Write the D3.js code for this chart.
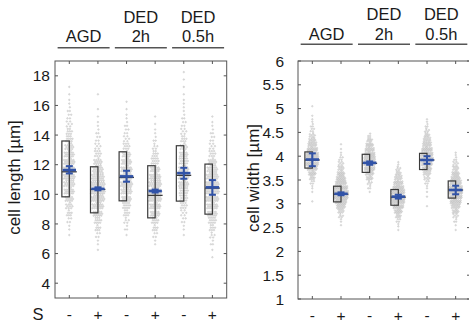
<!DOCTYPE html>
<html><head><meta charset="utf-8">
<script src="https://cdn.jsdelivr.net/npm/d3@7"></script>
<style>body{margin:0;background:#fff}svg{display:block}</style>
</head><body><svg id="c" width="469" height="324"></svg>
<script>
// ---------- data ----------
const positions = [1, 2, 3, 4, 5, 6];
const signs = ["-", "+", "-", "+", "-", "+"];
const groupTop = ["", "DED", "DED"];
const groupBottom = ["AGD", "2h", "0.5h"];
const groupPairs = [[1, 2], [3, 4], [5, 6]];

const lengthTicks = [4, 6, 8, 10, 12, 14, 16, 18];
const widthTicks = [1, 1.5, 2, 2.5, 3, 3.5, 4, 4.5, 5, 5.5, 6];
const widthTickLabels = ["1", "1.5", "2", "2.5", "3", "3.5", "4", "4.5", "5", "5.5", "6"];

const lengthMean = [11.64, 10.37, 11.21, 10.22, 11.43, 10.47];
const lengthCILow = [11.41, 10.27, 10.85, 10.12, 11.05, 9.97];
const lengthCIHigh = [11.90, 10.47, 11.59, 10.32, 11.79, 10.96];
const lengthBoxLow = [9.83, 8.75, 9.56, 8.41, 9.54, 8.66];
const lengthBoxHigh = [13.60, 11.86, 12.87, 11.93, 13.28, 12.04];
const lengthMedian = [11.52, 10.33, 11.14, 9.93, 11.28, 10.42];

const widthMean = [3.93, 3.21, 3.86, 3.15, 3.92, 3.29];
const widthCILow = [3.79, 3.18, 3.82, 3.11, 3.84, 3.20];
const widthCIHigh = [4.06, 3.24, 3.89, 3.19, 4.00, 3.38];
const widthBoxLow = [3.75, 3.04, 3.66, 2.97, 3.72, 3.12];
const widthBoxHigh = [4.09, 3.37, 4.04, 3.30, 4.06, 3.48];
const widthMedian = [3.92, 3.20, 3.85, 3.14, 3.92, 3.29];

// histogram counts of the individual cells (length: bins of 0.5 from 5.5; width: bins of 0.1 from 2.3)
const lengthBinStart = 5.5, lengthBinStep = 0.5;
const lengthCounts1 = [0,0,0,1,2,4,7,10,13,17,19,21,21,20,17,14,11,8,6,4,3,2,1,1,0,0];
const lengthCounts2 = [0,1,2,4,7,11,16,21,26,28,27,23,18,13,9,6,4,3,2,1,1,0,1,0,0,0];
const lengthCounts3 = [0,0,0,1,3,5,8,12,16,19,22,22,20,17,13,9,6,4,3,2,1,1,0,0,0,0];
const lengthCounts4 = [0,0,2,4,7,11,16,20,24,25,23,20,16,12,8,5,3,2,1,1,0,0,0,0,0,0];
const lengthCounts5 = [0,0,0,1,2,4,6,9,12,15,17,18,17,15,13,10,8,6,4,3,2,2,1,1,1,1];
const lengthCounts6 = [1,1,3,5,8,12,16,20,24,26,25,22,18,13,9,6,4,3,2,1,0,0,0,0,0,0];

const widthBinStart = 2.3, widthBinStep = 0.1;
const widthCounts1 = [0,0,0,0,0,0,0,1,0,1,2,4,8,13,20,26,28,26,21,16,11,7,4,3,2,1,0,1];
const widthCounts2 = [0,0,1,2,5,9,16,24,31,33,29,23,18,13,9,6,4,2,1,1,0,0,0,0,0,0,0,0];
const widthCounts3 = [0,0,0,0,0,0,0,0,0,1,3,5,10,15,21,24,24,21,17,13,8,3,0,0,0,0,0,0];
const widthCounts4 = [0,1,2,4,8,14,21,28,31,28,22,17,12,8,5,2,0,0,0,0,0,0,0,0,0,0,0,0];
const widthCounts5 = [0,0,0,0,0,0,1,0,1,1,2,4,7,12,18,23,26,25,21,16,12,8,5,3,2,0,0,0];
const widthCounts6 = [0,1,1,3,6,10,16,22,27,30,29,24,18,13,9,6,3,2,0,0,0,0,0,0,0,0,0,0];

// ---------- drawing ----------
const FONT = "'Liberation Sans', Arial, Helvetica, sans-serif";
const svg = d3.select("#c");
const AX = "#555", BLUE = "#3153a8", BOXC = "#3a3a3a";

function panel(cfg) {
  const x = d3.scaleLinear().domain([0.5, 6.5]).range([cfg.left, cfg.right]);
  const y = d3.scaleLinear().domain(cfg.domain).range([cfg.bottom, cfg.top]);
  const g = svg.append("g");

  // dots (beeswarm from histograms)
  const dots = [];
  cfg.counts.forEach((counts, gi) => {
    const xc = x(positions[gi]);
    counts.forEach((n, bi) => {
      if (!n) return;
      const v0 = cfg.binStart + bi * cfg.binStep, v1 = v0 + cfg.binStep;
      const ya = y(v0), yb = y(v1), h = ya - yb;
      const halfW = Math.min(6.5, 0.4 + 6 * n / cfg.maxN);
      const cols = Math.max(1, Math.floor(2 * halfW / 1.8) + 1);
      const rows = Math.ceil(n / cols);
      for (let j = 0; j < n; j++) {
        const r = Math.floor(j / cols), c = j % cols;
        const inRow = Math.min(cols, n - r * cols);
        const sp = cols > 1 ? 2 * halfW / (cols - 1) : 0;
        const off = (r % 2 ? 0.25 : -0.25) * sp;
        dots.push([xc + (c - (inRow - 1) / 2) * sp + off, ya - (r + 0.5) / rows * h]);
      }
    });
  });
  g.append("g").selectAll("circle").data(dots).join("circle")
    .attr("cx", d => d[0]).attr("cy", d => d[1]).attr("r", 0.8)
    .attr("fill", "#e4e4e4").attr("stroke", "#b0b0b0").attr("stroke-width", 0.35);

  const bw = 0.26;
  // boxes
  g.append("g").selectAll("rect").data(positions).join("rect")
    .attr("x", (p) => x(p - bw)).attr("width", x(bw) - x(0))
    .attr("y", (p, i) => y(cfg.boxHigh[i])).attr("height", (p, i) => y(cfg.boxLow[i]) - y(cfg.boxHigh[i]))
    .attr("fill", "none").attr("stroke", BOXC).attr("stroke-width", 1.2);
  g.append("g").selectAll("line").data(positions).join("line")
    .attr("x1", p => x(p - bw)).attr("x2", p => x(p + bw))
    .attr("y1", (p, i) => y(cfg.median[i])).attr("y2", (p, i) => y(cfg.median[i]))
    .attr("stroke", BOXC).attr("stroke-width", 1.3);
  // mean + error bars
  const mg = g.append("g").attr("stroke", BLUE);
  mg.selectAll(".m").data(positions).join("line").attr("class", "m")
    .attr("x1", p => x(p - bw * 0.9)).attr("x2", p => x(p + bw * 0.9))
    .attr("y1", (p, i) => y(cfg.mean[i])).attr("y2", (p, i) => y(cfg.mean[i])).attr("stroke-width", 2.6);
  mg.selectAll(".v").data(positions).join("line").attr("class", "v")
    .attr("x1", p => x(p)).attr("x2", p => x(p))
    .attr("y1", (p, i) => y(cfg.ciLow[i])).attr("y2", (p, i) => y(cfg.ciHigh[i])).attr("stroke-width", 2);
  ["ciLow", "ciHigh"].forEach(k => {
    mg.selectAll(".c" + k).data(positions).join("line")
      .attr("x1", p => x(p) - 3.5).attr("x2", p => x(p) + 3.5)
      .attr("y1", (p, i) => y(cfg[k][i])).attr("y2", (p, i) => y(cfg[k][i])).attr("stroke-width", 2);
  });

  // frame + inward ticks
  const fr = g.append("g").attr("stroke", AX).attr("stroke-width", 1).attr("fill", "none");
  fr.append("rect").attr("x", cfg.left).attr("y", cfg.top).attr("width", cfg.right - cfg.left).attr("height", cfg.bottom - cfg.top);
  positions.forEach(p => {
    fr.append("line").attr("x1", x(p)).attr("x2", x(p)).attr("y1", cfg.bottom).attr("y2", cfg.bottom - 3);
    fr.append("line").attr("x1", x(p)).attr("x2", x(p)).attr("y1", cfg.top).attr("y2", cfg.top + 3);
  });
  cfg.ticks.forEach(t => {
    fr.append("line").attr("x1", cfg.left).attr("x2", cfg.left + 3).attr("y1", y(t)).attr("y2", y(t));
    fr.append("line").attr("x1", cfg.right).attr("x2", cfg.right - 3).attr("y1", y(t)).attr("y2", y(t));
  });

  const tg = g.append("g").attr("font-family", FONT).attr("font-size", 15.5).attr("fill", "#1a1a1a");
  tg.selectAll(".yt").data(cfg.ticks).join("text").attr("class", "yt")
    .attr("x", cfg.tickLabelX).attr("y", t => y(t)).attr("dy", "0.36em").attr("text-anchor", "end")
    .text((t, i) => cfg.tickLabels[i]);
  tg.selectAll(".xt").data(positions).join("text").attr("class", "xt")
    .attr("x", p => x(p)).attr("y", cfg.signY).attr("text-anchor", "middle").text((p, i) => signs[i]);
  tg.append("text").attr("transform", `translate(${cfg.labelX},${(cfg.top + cfg.bottom) / 2 - 2}) rotate(-90)`)
    .attr("text-anchor", "middle").attr("dy", "0.36em").attr("font-size", 17).text(cfg.label);
  if (cfg.sLabel) tg.append("text").attr("x", 38).attr("y", cfg.signY).attr("text-anchor", "middle").attr("font-size", 16.5).text("S");

  groupPairs.forEach((pr, k) => {
    const cx = (x(pr[0]) + x(pr[1])) / 2;
    tg.append("text").attr("x", cx).attr("y", cfg.gY1).attr("text-anchor", "middle").attr("font-size", 16.5).text(groupTop[k]);
    tg.append("text").attr("x", cx).attr("y", cfg.gY2).attr("text-anchor", "middle").attr("font-size", 16.5).text(groupBottom[k]);
    g.append("line").attr("x1", cx - 26).attr("x2", cx + 26).attr("y1", cfg.gLine).attr("y2", cfg.gLine)
      .attr("stroke", AX).attr("stroke-width", 1.5);
  });
}

panel({
  left: 55, right: 226.7, top: 61, bottom: 298, domain: [3, 19],
  ticks: lengthTicks, tickLabels: lengthTicks.map(String), tickLabelX: 50,
  counts: [lengthCounts1, lengthCounts2, lengthCounts3, lengthCounts4, lengthCounts5, lengthCounts6],
  binStart: lengthBinStart, binStep: lengthBinStep, maxN: 28,
  mean: lengthMean, ciLow: lengthCILow, ciHigh: lengthCIHigh,
  boxLow: lengthBoxLow, boxHigh: lengthBoxHigh, median: lengthMedian,
  label: "cell length [µm]", labelX: 14, signY: 320, sLabel: true,
  gY1: 23, gY2: 42, gLine: 47.7
});
panel({
  left: 298, right: 470, top: 61, bottom: 299, domain: [1, 6],
  ticks: widthTicks, tickLabels: widthTickLabels, tickLabelX: 284,
  counts: [widthCounts1, widthCounts2, widthCounts3, widthCounts4, widthCounts5, widthCounts6],
  binStart: widthBinStart, binStep: widthBinStep, maxN: 33,
  mean: widthMean, ciLow: widthCILow, ciHigh: widthCIHigh,
  boxLow: widthBoxLow, boxHigh: widthBoxHigh, median: widthMedian,
  label: "cell width [µm]", labelX: 253, signY: 321, sLabel: false,
  gY1: 20, gY2: 39.5, gLine: 44.3
});
</script></body></html>
